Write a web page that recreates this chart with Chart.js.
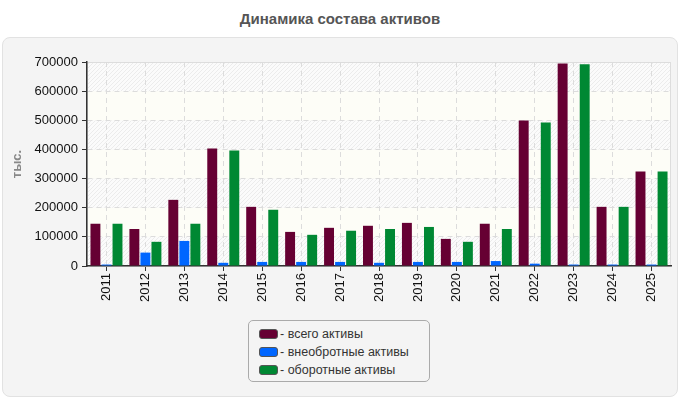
<!DOCTYPE html>
<html>
<head>
<meta charset="utf-8">
<script src="https://cdn.jsdelivr.net/npm/chart.js@4.4.0/dist/chart.umd.min.js"></script>
<style>
  html, body { margin: 0; padding: 0; background: #fff; }
  body { width: 680px; height: 400px; position: relative; overflow: hidden; font-family: "Liberation Sans", Arial, sans-serif; }
  .title { position: absolute; top: 10px; left: 0; width: 680px; text-align: center; font-weight: bold; font-size: 15px; color: #555; }
  .panel { position: absolute; left: 2px; top: 37px; width: 674px; height: 358px; background: #f4f4f4; border: 1px solid #e2e2e2; border-radius: 8px; }
  #chart { position: absolute; left: 0; top: 0; }
  .legend { position: absolute; left: 248px; top: 320px; width: 182px; height: 62px; border: 1px solid #aaa; border-radius: 5px; background: #f4f4f4; box-sizing: border-box; padding: 4px 0 0 10px; }
  .legend div { height: 18px; font-size: 12.5px; color: #333; line-height: 18px; white-space: nowrap; }
  .legend span { display: inline-block; width: 17px; height: 8px; border-radius: 3px; border: 1px solid #555; vertical-align: middle; margin-right: 2px; position: relative; top: -1px; }
</style>
</head>
<body>
<div class="title">Динамика состава активов</div>
<div class="panel"></div>
<canvas id="chart" width="680" height="400"></canvas>
<div class="legend" id="legend"></div>
<script>
// years on the x axis
const years = ['2011', '2012', '2013', '2014', '2015', '2016', '2017', '2018',
  '2019', '2020', '2021', '2022', '2023', '2024', '2025'];

// тыс. руб.
const totalAssets = [145000, 127000, 227000, 403000, 203000, 117000, 131000, 138000,
  148000, 93000, 145000, 499000, 695000, 203000, 324000];
const nonCurrentAssets = [5000, 46000, 86000, 11000, 14000, 14000, 14000, 11000,
  14000, 14000, 17000, 8000, 5000, 5000, 5000];
const currentAssets = [145000, 83000, 145000, 396000, 193000, 107000, 121000, 127000,
  134000, 83000, 127000, 492000, 692000, 203000, 324000];

// legend text as in the source picture
const seriesNames = ['всего активы', 'внеобротные активы', 'оборотные активы'];
const seriesColors = ['#660033', '#0066ff', '#008833'];

// hatch pattern for the striped bands
function makeHatch() {
  const c = document.createElement('canvas');
  c.width = 4; c.height = 4;
  const g = c.getContext('2d');
  g.fillStyle = '#fbfbfb';
  g.fillRect(0, 0, 4, 4);
  g.strokeStyle = '#ececec';
  g.lineWidth = 1;
  g.beginPath();
  g.moveTo(0, 4); g.lineTo(4, 0);
  g.moveTo(-1, 1); g.lineTo(1, -1);
  g.moveTo(3, 5); g.lineTo(5, 3);
  g.stroke();
  return g.createPattern(c, 'repeat');
}

const bandsPlugin = {
  id: 'bands',
  beforeDraw(chart) {
    const { ctx, chartArea: a, scales } = chart;
    const y = scales.y;
    const hatch = makeHatch();
    ctx.save();
    y.ticks.forEach((t, i) => {
      if (i === y.ticks.length - 1) return;
      const top = y.getPixelForValue(y.ticks[i + 1].value);
      const bot = y.getPixelForValue(t.value);
      ctx.fillStyle = i % 2 === 0 ? hatch : '#fdfdf7';
      ctx.fillRect(a.left, top, a.right - a.left, bot - top);
    });
    ctx.strokeStyle = '#dddddd';
    ctx.lineWidth = 1;
    ctx.strokeRect(a.left + 0.5, a.top + 0.5, a.right - a.left - 1, a.bottom - a.top);
    ctx.restore();
  }
};

const ctx = document.getElementById('chart').getContext('2d');
new Chart(ctx, {
  type: 'bar',
  data: {
    labels: years,
    datasets: [
      { label: seriesNames[0], data: totalAssets, backgroundColor: seriesColors[0] },
      { label: seriesNames[1], data: nonCurrentAssets, backgroundColor: seriesColors[1] },
      { label: seriesNames[2], data: currentAssets, backgroundColor: seriesColors[2] }
    ]
  },
  options: {
    responsive: false,
    animation: false,
    layout: { padding: { top: 62, left: 10, right: 9, bottom: 95 } },
    datasets: { bar: { categoryPercentage: 0.85, barPercentage: 0.9 } },
    plugins: {
      legend: { display: false },
      tooltip: { enabled: false }
    },
    scales: {
      x: {
        grid: { offset: false, color: '#dcdcdc', tickColor: '#333', tickLength: 5 },
        border: { color: '#333', width: 1.5, dash: [5, 4] },
        ticks: { color: '#111', font: { family: '"Liberation Sans", Arial', size: 13 }, minRotation: 90, maxRotation: 90, padding: 2 },
        afterFit(s) { s.height = 39; }
      },
      y: {
        min: 0,
        max: 700000,
        ticks: {
          stepSize: 100000,
          color: '#111',
          font: { family: '"Liberation Sans", Arial', size: 13 },
          padding: 4,
          callback: (v) => String(v)
        },
        grid: { color: '#dcdcdc', tickColor: '#333', tickLength: 5 },
        border: { color: '#333', width: 1.5, dash: [5, 4] },
        title: { display: true, text: 'тыс.', color: '#888', font: { family: '"Liberation Sans", Arial', size: 13, weight: 'bold' }, padding: 0 },
        afterFit(s) { s.width = 77; }
      }
    }
  },
  plugins: [bandsPlugin]
});

// legend box
const legend = document.getElementById('legend');
seriesNames.forEach((name, i) => {
  const row = document.createElement('div');
  row.innerHTML = '<span style="background:' + seriesColors[i] + '"></span>- ' + name;
  legend.appendChild(row);
});
</script>
</body>
</html>
